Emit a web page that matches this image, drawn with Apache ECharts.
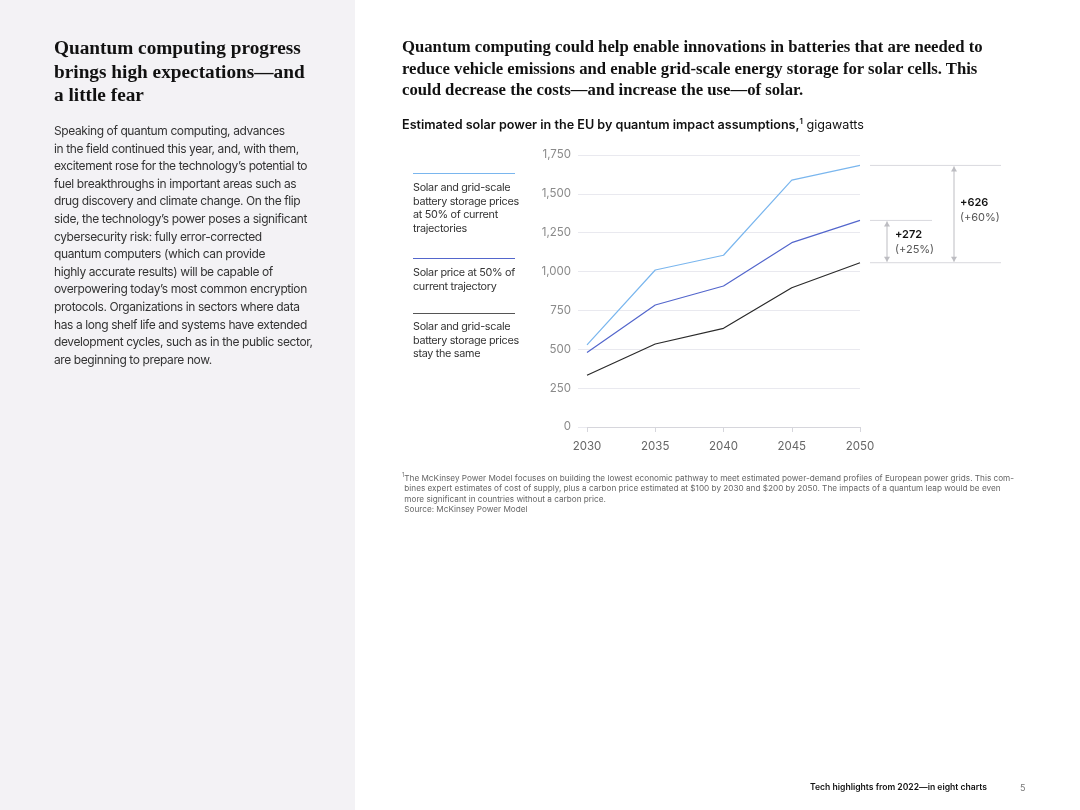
<!DOCTYPE html>
<html>
<head>
<meta charset="utf-8">
<script src="https://cdn.jsdelivr.net/npm/echarts@6/dist/echarts.min.js"></script>
<style>
  html, body { margin:0; padding:0; width:1080px; height:810px; background:#fff; overflow:hidden; }
  #panel { position:absolute; left:0; top:0; width:355px; height:810px; background:#f3f2f5; }
  .t { position:absolute; white-space:nowrap; }
  #ltitle { left:54px; top:36px; font-family:"Liberation Serif","DejaVu Serif",serif; font-weight:bold; font-size:19.3px; line-height:23.5px; color:#111; }
  #lbody { left:54px; top:122px; font-family:"Inter","Roboto",sans-serif; font-size:12px; letter-spacing:-0.4px; line-height:17.6px; color:#333; }
  #head { left:402px; top:36px; font-family:"Liberation Serif","DejaVu Serif",serif; font-weight:bold; font-size:16.7px; line-height:21.5px; color:#111; }
  #sub { left:402px; top:116px; font-family:"Inter","Roboto",sans-serif; font-size:12.6px; color:#111; }
  #sub b { font-weight:600; }
  .leg { left:413px; font-family:"Inter","Roboto",sans-serif; font-size:10.8px; letter-spacing:-0.3px; line-height:13.7px; color:#333; }
  .legline { position:absolute; left:413px; width:102px; height:1.3px; }
  #foot { left:402px; top:470px; font-family:"Inter","Roboto",sans-serif; font-size:8.2px; line-height:10.4px; color:#666; }
  #pg { left:810px; top:782px; font-family:"Inter","Roboto",sans-serif; font-size:8.6px; font-weight:600; color:#111; }
  #pn { left:1020px; top:782px; font-family:"Inter","Roboto",sans-serif; font-size:9px; color:#777; }
  #chart { position:absolute; left:0; top:0; width:1080px; height:810px; }
</style>
</head>
<body>
<div id="panel"></div>
<div id="chart"></div>
<div class="t" id="ltitle">Quantum computing progress<br>brings high expectations—and<br>a little fear</div>
<div class="t" id="lbody">Speaking of quantum computing, advances<br>in the field continued this year, and, with them,<br>excitement rose for the technology’s potential to<br>fuel breakthroughs in important areas such as<br>drug discovery and climate change. On the flip<br>side, the technology’s power poses a significant<br>cybersecurity risk: fully error-corrected<br>quantum computers (which can provide<br>highly accurate results) will be capable of<br>overpowering today’s most common encryption<br>protocols. Organizations in sectors where data<br>has a long shelf life and systems have extended<br>development cycles, such as in the public sector,<br>are beginning to prepare now.</div>
<div class="t" id="head">Quantum computing could help enable innovations in batteries that are needed to<br>reduce vehicle emissions and enable grid-scale energy storage for solar cells. This<br>could decrease the costs—and increase the use—of solar.</div>
<div class="t" id="sub"><b>Estimated solar power in the EU by quantum impact assumptions,<sup style="font-size:8px">1</sup></b> gigawatts</div>

<div class="legline" style="top:173px;background:#7ab6ee"></div>
<div class="t leg" style="top:181px">Solar and grid-scale<br>battery storage prices<br>at 50% of current<br>trajectories</div>
<div class="legline" style="top:258px;background:#5366cc"></div>
<div class="t leg" style="top:266px">Solar price at 50% of<br>current trajectory</div>
<div class="legline" style="top:313px;background:#555"></div>
<div class="t leg" style="top:320px">Solar and grid-scale<br>battery storage prices<br>stay the same</div>

<div class="t" id="foot"><sup style="font-size:5.5px">1</sup>The McKinsey Power Model focuses on building the lowest economic pathway to meet estimated power-demand profiles of European power grids. This com-<br>&nbsp;bines expert estimates of cost of supply, plus a carbon price estimated at $100 by 2030 and $200 by 2050. The impacts of a quantum leap would be even<br>&nbsp;more significant in countries without a carbon price.<br>&nbsp;Source: McKinsey Power Model</div>
<div class="t" id="pg">Tech highlights from 2022—in eight charts</div>
<div class="t" id="pn">5</div>

<script>
const years = ['2030', '2035', '2040', '2045', '2050'];
const bothAt50 = [528, 1010, 1105, 1588, 1683];
const solarAt50 = [480, 785, 907, 1186, 1329];
const stayTheSame = [333, 534, 635, 896, 1057];
const yTicks = [0, 250, 500, 750, 1000, 1250, 1500, 1750];
const diffSolar = '+272';
const diffSolarPct = '(+25%)';
const diffBoth = '+626';
const diffBothPct = '(+60%)';

const chart = echarts.init(document.getElementById('chart'), null, {renderer:'canvas'});
const font = 'Inter, Roboto, sans-serif';
const option = {
  animation: false,
  backgroundColor: 'transparent',
  grid: { left: 587, right: 220, top: 155, bottom: 383 },
  xAxis: {
    type: 'category', data: years, boundaryGap: false,
    axisLine: { show: true, lineStyle: { color: '#d6d6dc', width: 1 } },
    axisTick: { show: true, length: 5, alignWithLabel: true, lineStyle: { color: '#d6d6dc' } },
    axisLabel: { color: '#666', fontSize: 11.5, fontFamily: font, margin: 14 }
  },
  yAxis: {
    type: 'value', min: 0, max: 1750, interval: 250,
    axisLine: { show: false },
    axisTick: { show: true, length: 9, lineStyle: { color: '#e9e9ef' } },
    splitLine: { lineStyle: { color: '#e9e9ef', width: 1 } },
    axisLabel: { color: '#8a8a8a', fontSize: 11.5, fontFamily: font, margin: 16,
      formatter: v => yTicks.includes(v) ? v.toLocaleString('en-US') : '' }
  },
  series: [
    { type: 'line', data: bothAt50, symbol: 'none', lineStyle: { color: '#7ab6ee', width: 1.2 } },
    { type: 'line', data: solarAt50, symbol: 'none', lineStyle: { color: '#5366cc', width: 1.2 } },
    { type: 'line', data: stayTheSame, symbol: 'none', lineStyle: { color: '#2a2a2a', width: 1.2 } }
  ]
};
chart.setOption(option);

const yTop = chart.convertToPixel({yAxisIndex:0}, bothAt50[4]);
const yMid = chart.convertToPixel({yAxisIndex:0}, solarAt50[4]);
const yBot = chart.convertToPixel({yAxisIndex:0}, stayTheSame[4]);
const lc = '#d9d9de', ac = '#bdbdc2';
function arrow(x, y1, y2) {
  return [
    { type:'line', shape:{x1:x, y1:y1+1, x2:x, y2:y2-1}, style:{stroke:ac, lineWidth:1} },
    { type:'polygon', shape:{points:[[x,y1+1],[x-3,y1+6],[x+3,y1+6]]}, style:{fill:ac} },
    { type:'polygon', shape:{points:[[x,y2-1],[x-3,y2-6],[x+3,y2-6]]}, style:{fill:ac} }
  ];
}
const g = [
  { type:'line', shape:{x1:870, y1:yTop, x2:1001, y2:yTop}, style:{stroke:lc, lineWidth:1} },
  { type:'line', shape:{x1:870, y1:yMid, x2:932, y2:yMid}, style:{stroke:lc, lineWidth:1} },
  { type:'line', shape:{x1:870, y1:yBot, x2:1001, y2:yBot}, style:{stroke:lc, lineWidth:1} },
  ...arrow(887, yMid, yBot),
  ...arrow(954, yTop, yBot),
  { type:'text', x:895, y:(yMid+yBot)/2 - 7, style:{text:diffSolar, fill:'#111', font:'600 11px '+font, textVerticalAlign:'middle'} },
  { type:'text', x:895, y:(yMid+yBot)/2 + 8, style:{text:diffSolarPct, fill:'#555', font:'11px '+font, textVerticalAlign:'middle'} },
  { type:'text', x:960, y:(yTop+yBot)/2 - 11, style:{text:diffBoth, fill:'#111', font:'600 11px '+font, textVerticalAlign:'middle'} },
  { type:'text', x:960, y:(yTop+yBot)/2 + 4, style:{text:diffBothPct, fill:'#555', font:'11px '+font, textVerticalAlign:'middle'} }
];
chart.setOption({ graphic: g });
</script>
</body>
</html>
